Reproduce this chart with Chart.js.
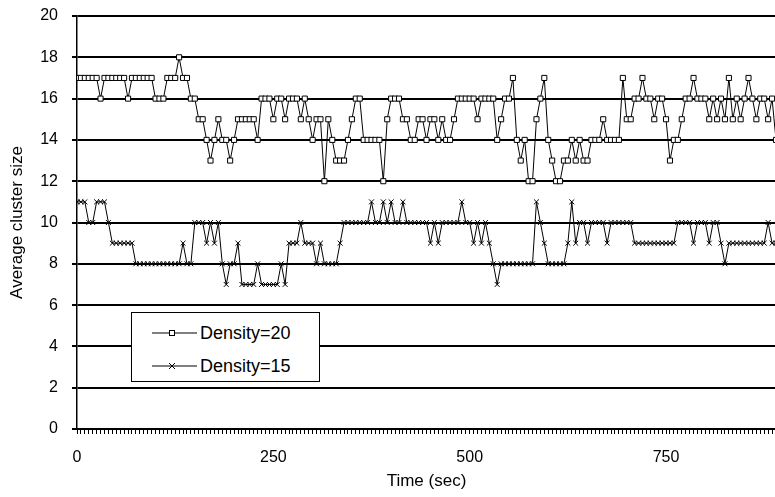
<!DOCTYPE html>
<html>
<head>
<meta charset="utf-8">
<script src="https://cdn.jsdelivr.net/npm/chart.js@4"></script>
<style>
  html, body { margin: 0; padding: 0; background: #fff; overflow: hidden; }
  #wrap { position: relative; width: 775px; height: 497px; overflow: hidden; }
  #chart { display: block; }
  #legend {
    position: absolute; left: 131px; top: 312px; width: 187px; height: 68px;
    border: 1.5px solid #000; background: #fff;
    font-family: "Liberation Sans", Arial, sans-serif; font-size: 18px; color: #000;
  }
  #legend .row { position: absolute; left: 18px; height: 22px; display: flex; align-items: center; }
  #legend svg { margin-right: 2px; }
</style>
</head>
<body>
<div id="wrap">
  <!-- the plot runs past the right edge of the picture, so the canvas is a bit wider than the window -->
  <canvas id="chart" width="781" height="497"></canvas>
  <div id="legend">
    <div class="row" style="top:9px">
      <svg width="48" height="12"><line x1="2" y1="6" x2="47" y2="6" stroke="#000" stroke-width="1.2"/><rect x="19.5" y="3.5" width="5" height="5" fill="#fff" stroke="#000" stroke-width="1"/></svg>
      <span>Density=20</span>
    </div>
    <div class="row" style="top:42px">
      <svg width="48" height="12"><line x1="2" y1="6" x2="47" y2="6" stroke="#000" stroke-width="1.2"/><path d="M19 3 L25 9 M25 3 L19 9" stroke="#000" stroke-width="1"/></svg>
      <span>Density=15</span>
    </div>
  </div>
</div>
<script>
// average cluster size, one sample every 5 s
const density20 = [
  17,17,17,17,17,17,16,17,17,17,
  17,17,17,16,17,17,17,17,17,17,
  16,16,16,17,17,17,18,17,17,16,
  16,15,15,14,13,14,15,14,14,13,
  14,15,15,15,15,15,14,16,16,16,
  15,16,16,15,16,16,16,15,16,15,
  14,15,15,12,15,14,13,13,13,14,
  15,16,16,14,14,14,14,14,12,15,
  16,16,16,15,15,14,14,15,15,14,
  15,15,14,15,14,14,15,16,16,16,
  16,16,15,16,16,16,16,14,15,16,
  16,17,14,13,14,12,12,15,16,17,
  14,13,12,12,13,13,14,13,14,13,
  13,14,14,14,15,14,14,14,14,17,
  15,15,16,16,17,16,16,15,16,16,
  15,13,14,14,15,16,16,17,16,16,
  16,15,16,15,16,15,17,15,16,15,
  16,17,16,15,16,16,15,16,14
];
const density15 = [
  11,11,11,10,10,11,11,11,10,9,
  9,9,9,9,9,8,8,8,8,8,
  8,8,8,8,8,8,8,9,8,8,
  10,10,10,9,10,9,10,8,7,8,
  8,9,7,7,7,7,8,7,7,7,
  7,7,8,7,9,9,9,10,9,9,
  9,8,9,8,8,8,8,9,10,10,
  10,10,10,10,10,11,10,10,11,10,
  11,10,10,11,10,10,10,10,10,10,
  9,10,9,10,10,10,10,10,11,10,
  10,9,10,9,10,9,8,7,8,8,
  8,8,8,8,8,8,8,11,10,9,
  8,8,8,8,8,9,11,9,10,10,
  9,10,10,10,10,9,10,10,10,10,
  10,10,9,9,9,9,9,9,9,9,
  9,9,9,10,10,10,10,9,10,10,
  10,9,10,10,9,8,9,9,9,9,
  9,9,9,9,9,9,10,9,9
];
const times = density20.map((_, i) => i * 5);
const xLabels = [0, 250, 500, 750];
const yMax = 20;

const font = { family: '"Liberation Sans", Arial, sans-serif', size: 16 };
const titleFont = { family: '"Liberation Sans", Arial, sans-serif', size: 17 };

new Chart(document.getElementById('chart'), {
  type: 'line',
  data: {
    datasets: [
      {
        label: 'Density=20',
        data: times.map((t, i) => ({ x: t, y: density20[i] })),
        borderColor: '#000', borderWidth: 1,
        pointStyle: 'rect', pointRadius: 3.6, pointBorderWidth: 1,
        pointBackgroundColor: '#fff', pointBorderColor: '#000'
      },
      {
        label: 'Density=15',
        data: times.map((t, i) => ({ x: t, y: density15[i] })),
        borderColor: '#000', borderWidth: 1,
        pointStyle: 'crossRot', pointRadius: 3.5, pointBorderWidth: 1,
        pointBorderColor: '#000'
      }
    ]
  },
  options: {
    responsive: false,
    animation: false,
    layout: { padding: { top: 16, right: 0, left: 0, bottom: 0 } },
    plugins: { legend: { display: false }, tooltip: { enabled: false } },
    scales: {
      x: {
        type: 'linear', min: 0, max: 890,
        afterFit: s => { s.height = 68; s.paddingLeft = 0; s.paddingRight = 0; },
        ticks: {
          stepSize: 5, autoSkip: false, maxRotation: 0, minRotation: 0,
          padding: 14, color: '#000', font,
          callback: v => xLabels.includes(v) ? String(v) : ''
        },
        grid: { drawOnChartArea: false, color: '#000', lineWidth: 1, tickLength: 5 },
        border: { color: '#000', width: 2 },
        title: { display: true, text: 'Time (sec)', color: '#000', font: titleFont, padding: { top: 0, bottom: 5 } }
      },
      y: {
        min: 0, max: yMax,
        afterFit: s => { s.width = 77; s.paddingTop = 0; s.paddingBottom = 0; },
        ticks: { stepSize: 2, padding: 14, color: '#000', font },
        grid: { color: '#000', lineWidth: 2, tickLength: 5 },
        border: { color: '#000', width: 1.5 },
        title: { display: true, text: 'Average cluster size', color: '#000', font: titleFont, padding: { top: 7, bottom: 0 } }
      }
    }
  }
});
</script>
</body>
</html>
